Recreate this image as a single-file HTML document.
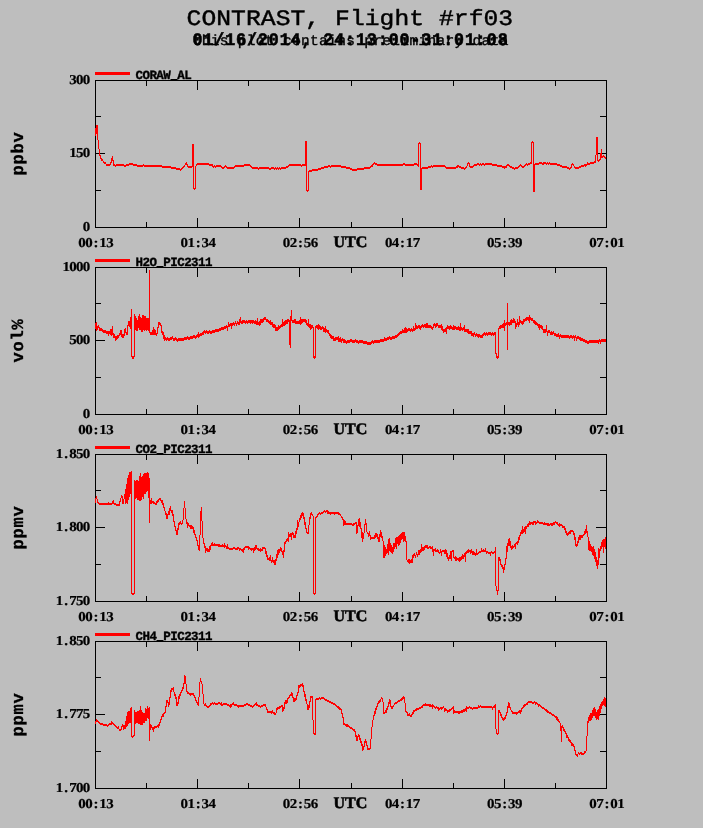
<!DOCTYPE html><html><head><meta charset="utf-8"><style>html,body{margin:0;padding:0;background:#bebebe;overflow:hidden}svg{display:block;will-change:transform;text-rendering:geometricPrecision}</style></head><body>
<svg width="703" height="828" viewBox="0 0 703 828">
<rect width="703" height="828" fill="#bebebe"/>
<text transform="translate(186.50,24.50) scale(1.120,1.000)" x="6.63 19.89 33.15 46.41 59.67 72.92 86.18 99.44 112.70 125.96 139.22 152.48 165.74 179.00 192.25 205.51 218.77 232.03 245.29 258.55 271.81 285.07" y="0" font-family="Liberation Mono" font-weight="normal" font-size="22.00" text-anchor="middle" stroke="#000" stroke-width="0.45">CONTRAST, Flight #rf03</text>
<text transform="translate(192.00,44.50) scale(0.950,1.000)" x="5.74 17.21 28.68 40.16 51.63 63.11 74.58 86.05 97.53 109.00 120.47 131.95 143.42 154.89 166.37 177.84 189.32 200.79 212.26 223.74 235.21 246.68 258.16 269.63 281.11 292.58 304.05 315.53 327.00" y="0" font-family="Liberation Mono" font-weight="bold" font-size="17.50" text-anchor="middle" stroke="#000" stroke-width="0.6">01/16/2014, 24:13:00-31:01:08</text>
<text transform="translate(192.50,44.50) scale(1.000,1.000)" x="4.51 13.54 22.57 31.60 40.63 49.66 58.69 67.72 76.75 85.78 94.81 103.84 112.87 121.90 130.94 139.97 148.99 158.02 167.05 176.08 185.11 194.14 203.17 212.20 221.23 230.26 239.29 248.32 257.35 266.38 275.41 284.44 293.47 302.50 311.53" y="0" font-family="Liberation Mono" font-weight="normal" font-size="14.50" text-anchor="middle" stroke="#000" stroke-width="0.35">this plot contains preliminary data</text>
<g shape-rendering="crispEdges" stroke="#000" stroke-width="1" fill="none">
<rect x="95.5" y="80.5" width="511" height="147"/>
<path d="M146.5 80 v6 M146.5 228 v-6 M197.5 80 v10 M197.5 228 v-10 M248.5 80 v6 M248.5 228 v-6 M299.5 80 v10 M299.5 228 v-10 M351.5 80 v6 M351.5 228 v-6 M402.5 80 v10 M402.5 228 v-10 M453.5 80 v6 M453.5 228 v-6 M504.5 80 v10 M504.5 228 v-10 M555.5 80 v6 M555.5 228 v-6 M95 116.5 h6 M607 116.5 h-7 M95 153.5 h10 M607 153.5 h-11 M95 190.5 h6 M607 190.5 h-7"/>
</g>
<rect x="95" y="72" width="35" height="3" fill="#f00"/>
<text x="135.50 142.45 149.40 156.35 163.30 170.25 177.20 184.15" y="78.6" font-family="Liberation Mono" font-weight="bold" font-size="12.5" stroke="#000" stroke-width="0.35">CORAW AL</text>
<rect x="170.5" y="79" width="7" height="1" fill="#000"/>
<text transform="translate(69.60,84.40) scale(1.100,1.000)" x="3.09 9.27 15.45" y="0" font-family="Liberation Serif" font-weight="bold" font-size="13.60" text-anchor="middle" stroke="#000" stroke-width="0.2">300</text>
<text transform="translate(69.60,157.40) scale(1.100,1.000)" x="3.09 9.27 15.45" y="0" font-family="Liberation Serif" font-weight="bold" font-size="13.60" text-anchor="middle" stroke="#000" stroke-width="0.2">150</text>
<text transform="translate(83.20,231.40) scale(1.100,1.000)" x="3.09" y="0" font-family="Liberation Serif" font-weight="bold" font-size="13.60" text-anchor="middle" stroke="#000" stroke-width="0.2">0</text>
<text transform="translate(78.50,247.20) scale(1.100,1.000)" x="3.18 9.55 15.91 22.27 28.64" y="0" font-family="Liberation Serif" font-weight="bold" font-size="13.60" text-anchor="middle" stroke="#000" stroke-width="0.2">00:13</text>
<text transform="translate(180.70,247.20) scale(1.100,1.000)" x="3.18 9.55 15.91 22.27 28.64" y="0" font-family="Liberation Serif" font-weight="bold" font-size="13.60" text-anchor="middle" stroke="#000" stroke-width="0.2">01:34</text>
<text transform="translate(282.90,247.20) scale(1.100,1.000)" x="3.18 9.55 15.91 22.27 28.64" y="0" font-family="Liberation Serif" font-weight="bold" font-size="13.60" text-anchor="middle" stroke="#000" stroke-width="0.2">02:56</text>
<text transform="translate(385.10,247.20) scale(1.100,1.000)" x="3.18 9.55 15.91 22.27 28.64" y="0" font-family="Liberation Serif" font-weight="bold" font-size="13.60" text-anchor="middle" stroke="#000" stroke-width="0.2">04:17</text>
<text transform="translate(487.30,247.20) scale(1.100,1.000)" x="3.18 9.55 15.91 22.27 28.64" y="0" font-family="Liberation Serif" font-weight="bold" font-size="13.60" text-anchor="middle" stroke="#000" stroke-width="0.2">05:39</text>
<text transform="translate(589.50,247.20) scale(1.100,1.000)" x="3.18 9.55 15.91 22.27 28.64" y="0" font-family="Liberation Serif" font-weight="bold" font-size="13.60" text-anchor="middle" stroke="#000" stroke-width="0.2">07:01</text>
<text transform="translate(333.80,247.00) scale(1.000,1.000)" x="5.55 16.65 27.75" y="0" font-family="Liberation Serif" font-weight="bold" font-size="16.00" text-anchor="middle" stroke="#000" stroke-width="0.55">UTC</text>
<text transform="translate(23,153.5) rotate(-90)" x="-22.00 -11.00 0.00 11.00" y="0" font-family="Liberation Mono" font-weight="bold" font-size="17" stroke="#000" stroke-width="0.3">ppbv</text>
<path d="M95 128h1v8h-1zM96 125h1v9h-1zM97 125h1v15h-1zM98 140h1v9h-1zM99 149h1v7h-1zM100 155h1v4h-1zM101 158h1v3h-1zM102 159h1v2h-1zM103 161h1v2h-1zM104 162h1v2h-1zM105 162h1v2h-1zM106 164h1v2h-1zM107 164h1v2h-1zM108 164h1v2h-1zM109 164h1v2h-1zM110 162h1v3h-1zM111 158h1v5h-1zM112 156h1v5h-1zM113 160h1v6h-1zM114 164h1v2h-1zM115 165h1v2h-1zM116 164h1v2h-1zM117 164h1v2h-1zM118 164h1v2h-1zM119 164h1v2h-1zM120 164h1v2h-1zM121 164h1v2h-1zM122 164h1v2h-1zM123 164h1v2h-1zM124 165h1v2h-1zM125 165h1v2h-1zM126 164h1v2h-1zM127 164h1v2h-1zM128 164h1v2h-1zM129 163h1v2h-1zM130 163h1v2h-1zM131 163h1v2h-1zM132 163h1v2h-1zM133 164h1v2h-1zM134 164h1v2h-1zM135 164h1v2h-1zM136 164h1v2h-1zM137 165h1v2h-1zM138 165h1v2h-1zM139 165h1v2h-1zM140 165h1v2h-1zM141 165h1v2h-1zM142 165h1v2h-1zM143 164h1v2h-1zM144 165h1v2h-1zM145 165h1v2h-1zM146 165h1v2h-1zM147 165h1v2h-1zM148 165h1v2h-1zM149 165h1v2h-1zM150 165h1v2h-1zM151 165h1v2h-1zM152 165h1v2h-1zM153 165h1v2h-1zM154 165h1v2h-1zM155 165h1v2h-1zM156 165h1v2h-1zM157 165h1v2h-1zM158 165h1v2h-1zM159 165h1v2h-1zM160 165h1v2h-1zM161 165h1v2h-1zM162 166h1v2h-1zM163 166h1v2h-1zM164 166h1v2h-1zM165 166h1v2h-1zM166 166h1v2h-1zM167 166h1v2h-1zM168 166h1v2h-1zM169 166h1v2h-1zM170 166h1v2h-1zM171 167h1v2h-1zM172 167h1v2h-1zM173 167h1v2h-1zM174 167h1v2h-1zM175 167h1v2h-1zM176 168h1v2h-1zM177 168h1v2h-1zM178 168h1v2h-1zM179 168h1v2h-1zM180 169h1v2h-1zM181 168h1v2h-1zM182 167h1v2h-1zM183 166h1v2h-1zM184 165h1v2h-1zM185 163h1v2h-1zM186 162h1v3h-1zM187 164h1v3h-1zM188 166h1v2h-1zM189 166h1v2h-1zM190 166h1v2h-1zM191 166h1v2h-1zM192 144h1v23h-1zM193 144h1v45h-1zM194 188h1v2h-1zM195 166h1v23h-1zM196 164h1v2h-1zM197 163h1v2h-1zM198 163h1v2h-1zM199 163h1v2h-1zM200 163h1v2h-1zM201 163h1v2h-1zM202 163h1v2h-1zM203 163h1v2h-1zM204 163h1v2h-1zM205 163h1v2h-1zM206 163h1v2h-1zM207 163h1v2h-1zM208 163h1v2h-1zM209 164h1v2h-1zM210 164h1v2h-1zM211 164h1v2h-1zM212 164h1v3h-1zM213 166h1v2h-1zM214 165h1v2h-1zM215 166h1v2h-1zM216 165h1v2h-1zM217 165h1v2h-1zM218 165h1v2h-1zM219 165h1v2h-1zM220 165h1v2h-1zM221 166h1v2h-1zM222 167h1v2h-1zM223 167h1v2h-1zM224 166h1v2h-1zM225 165h1v2h-1zM226 166h1v2h-1zM227 167h1v2h-1zM228 167h1v2h-1zM229 167h1v2h-1zM230 167h1v2h-1zM231 167h1v2h-1zM232 167h1v2h-1zM233 167h1v2h-1zM234 166h1v2h-1zM235 165h1v2h-1zM236 165h1v2h-1zM237 165h1v2h-1zM238 165h1v2h-1zM239 165h1v2h-1zM240 165h1v2h-1zM241 165h1v2h-1zM242 165h1v2h-1zM243 165h1v2h-1zM244 164h1v2h-1zM245 164h1v2h-1zM246 164h1v2h-1zM247 164h1v2h-1zM248 164h1v2h-1zM249 164h1v2h-1zM250 165h1v2h-1zM251 166h1v2h-1zM252 167h1v2h-1zM253 167h1v2h-1zM254 167h1v2h-1zM255 167h1v2h-1zM256 167h1v2h-1zM257 167h1v2h-1zM258 168h1v2h-1zM259 167h1v2h-1zM260 167h1v2h-1zM261 167h1v2h-1zM262 167h1v2h-1zM263 167h1v2h-1zM264 167h1v2h-1zM265 167h1v2h-1zM266 167h1v2h-1zM267 167h1v2h-1zM268 167h1v2h-1zM269 168h1v2h-1zM270 168h1v2h-1zM271 167h1v2h-1zM272 167h1v2h-1zM273 167h1v2h-1zM274 168h1v2h-1zM275 167h1v2h-1zM276 168h1v2h-1zM277 167h1v2h-1zM278 168h1v2h-1zM279 167h1v2h-1zM280 168h1v2h-1zM281 167h1v2h-1zM282 167h1v2h-1zM283 167h1v2h-1zM284 167h1v2h-1zM285 167h1v2h-1zM286 166h1v2h-1zM287 166h1v2h-1zM288 165h1v2h-1zM289 164h1v2h-1zM290 164h1v2h-1zM291 164h1v2h-1zM292 164h1v2h-1zM293 164h1v2h-1zM294 164h1v2h-1zM295 164h1v2h-1zM296 164h1v2h-1zM297 164h1v2h-1zM298 164h1v2h-1zM299 164h1v2h-1zM300 164h1v2h-1zM301 165h1v2h-1zM302 164h1v2h-1zM303 164h1v2h-1zM304 164h1v2h-1zM305 141h1v25h-1zM306 141h1v50h-1zM307 190h1v2h-1zM308 171h1v20h-1zM309 170h1v2h-1zM310 170h1v2h-1zM311 170h1v2h-1zM312 169h1v2h-1zM313 169h1v2h-1zM314 169h1v2h-1zM315 169h1v2h-1zM316 169h1v2h-1zM317 169h1v2h-1zM318 168h1v2h-1zM319 168h1v2h-1zM320 168h1v2h-1zM321 167h1v2h-1zM322 167h1v2h-1zM323 167h1v2h-1zM324 166h1v2h-1zM325 166h1v2h-1zM326 166h1v2h-1zM327 166h1v2h-1zM328 165h1v2h-1zM329 165h1v2h-1zM330 166h1v2h-1zM331 165h1v2h-1zM332 165h1v2h-1zM333 165h1v2h-1zM334 165h1v2h-1zM335 165h1v2h-1zM336 165h1v2h-1zM337 165h1v2h-1zM338 165h1v2h-1zM339 165h1v2h-1zM340 165h1v2h-1zM341 166h1v2h-1zM342 166h1v2h-1zM343 166h1v2h-1zM344 166h1v2h-1zM345 166h1v2h-1zM346 167h1v2h-1zM347 167h1v2h-1zM348 167h1v2h-1zM349 167h1v2h-1zM350 168h1v2h-1zM351 168h1v2h-1zM352 169h1v2h-1zM353 169h1v2h-1zM354 169h1v2h-1zM355 169h1v2h-1zM356 169h1v2h-1zM357 168h1v2h-1zM358 168h1v2h-1zM359 168h1v2h-1zM360 168h1v2h-1zM361 168h1v2h-1zM362 168h1v2h-1zM363 168h1v2h-1zM364 167h1v2h-1zM365 167h1v2h-1zM366 167h1v2h-1zM367 167h1v2h-1zM368 167h1v2h-1zM369 167h1v2h-1zM370 166h1v2h-1zM371 165h1v2h-1zM372 164h1v3h-1zM373 163h1v2h-1zM374 162h1v2h-1zM375 163h1v2h-1zM376 163h1v2h-1zM377 164h1v2h-1zM378 164h1v2h-1zM379 164h1v2h-1zM380 164h1v2h-1zM381 164h1v2h-1zM382 164h1v2h-1zM383 164h1v2h-1zM384 164h1v2h-1zM385 164h1v2h-1zM386 164h1v2h-1zM387 164h1v2h-1zM388 164h1v2h-1zM389 164h1v2h-1zM390 164h1v2h-1zM391 164h1v2h-1zM392 164h1v2h-1zM393 164h1v2h-1zM394 164h1v2h-1zM395 164h1v2h-1zM396 164h1v2h-1zM397 164h1v2h-1zM398 164h1v2h-1zM399 164h1v2h-1zM400 164h1v2h-1zM401 164h1v2h-1zM402 164h1v2h-1zM403 163h1v2h-1zM404 163h1v2h-1zM405 164h1v2h-1zM406 164h1v2h-1zM407 164h1v2h-1zM408 164h1v2h-1zM409 164h1v2h-1zM410 164h1v2h-1zM411 164h1v2h-1zM412 164h1v2h-1zM413 164h1v2h-1zM414 163h1v2h-1zM415 163h1v2h-1zM416 163h1v2h-1zM417 164h1v2h-1zM418 143h1v24h-1zM419 142h1v2h-1zM420 143h1v47h-1zM421 168h1v22h-1zM422 167h1v2h-1zM423 167h1v2h-1zM424 167h1v2h-1zM425 167h1v2h-1zM426 167h1v2h-1zM427 167h1v2h-1zM428 166h1v2h-1zM429 166h1v2h-1zM430 166h1v2h-1zM431 165h1v2h-1zM432 166h1v2h-1zM433 165h1v2h-1zM434 165h1v2h-1zM435 165h1v2h-1zM436 165h1v2h-1zM437 165h1v2h-1zM438 165h1v2h-1zM439 165h1v2h-1zM440 165h1v2h-1zM441 165h1v2h-1zM442 165h1v2h-1zM443 165h1v2h-1zM444 165h1v2h-1zM445 166h1v2h-1zM446 167h1v2h-1zM447 167h1v2h-1zM448 167h1v2h-1zM449 167h1v2h-1zM450 167h1v2h-1zM451 167h1v2h-1zM452 167h1v2h-1zM453 167h1v2h-1zM454 167h1v2h-1zM455 167h1v2h-1zM456 166h1v2h-1zM457 165h1v3h-1zM458 165h1v2h-1zM459 166h1v2h-1zM460 166h1v2h-1zM461 167h1v2h-1zM462 167h1v2h-1zM463 167h1v2h-1zM464 168h1v2h-1zM465 167h1v2h-1zM466 166h1v2h-1zM467 163h1v3h-1zM468 162h1v2h-1zM469 163h1v4h-1zM470 166h1v2h-1zM471 166h1v2h-1zM472 166h1v2h-1zM473 165h1v2h-1zM474 164h1v2h-1zM475 164h1v2h-1zM476 164h1v2h-1zM477 163h1v2h-1zM478 163h1v2h-1zM479 164h1v2h-1zM480 163h1v2h-1zM481 164h1v2h-1zM482 163h1v2h-1zM483 163h1v2h-1zM484 164h1v2h-1zM485 163h1v2h-1zM486 163h1v2h-1zM487 163h1v2h-1zM488 163h1v2h-1zM489 163h1v2h-1zM490 163h1v2h-1zM491 163h1v2h-1zM492 164h1v2h-1zM493 164h1v2h-1zM494 164h1v2h-1zM495 164h1v2h-1zM496 164h1v2h-1zM497 165h1v2h-1zM498 165h1v2h-1zM499 165h1v2h-1zM500 165h1v2h-1zM501 165h1v2h-1zM502 166h1v2h-1zM503 166h1v2h-1zM504 166h1v3h-1zM505 166h1v2h-1zM506 165h1v3h-1zM507 164h1v2h-1zM508 164h1v2h-1zM509 165h1v2h-1zM510 166h1v2h-1zM511 166h1v2h-1zM512 167h1v2h-1zM513 167h1v2h-1zM514 168h1v2h-1zM515 167h1v2h-1zM516 167h1v2h-1zM517 167h1v2h-1zM518 166h1v2h-1zM519 165h1v2h-1zM520 164h1v2h-1zM521 165h1v2h-1zM522 166h1v2h-1zM523 166h1v2h-1zM524 165h1v2h-1zM525 164h1v2h-1zM526 163h1v2h-1zM527 164h1v2h-1zM528 163h1v2h-1zM529 163h1v2h-1zM530 162h1v2h-1zM531 142h1v22h-1zM532 141h1v2h-1zM533 142h1v50h-1zM534 164h1v28h-1zM535 163h1v2h-1zM536 163h1v2h-1zM537 163h1v2h-1zM538 163h1v2h-1zM539 162h1v2h-1zM540 162h1v2h-1zM541 162h1v2h-1zM542 163h1v2h-1zM543 162h1v3h-1zM544 162h1v2h-1zM545 162h1v2h-1zM546 163h1v2h-1zM547 162h1v2h-1zM548 163h1v2h-1zM549 162h1v2h-1zM550 163h1v2h-1zM551 163h1v2h-1zM552 163h1v2h-1zM553 163h1v2h-1zM554 163h1v2h-1zM555 163h1v2h-1zM556 163h1v2h-1zM557 164h1v2h-1zM558 164h1v2h-1zM559 164h1v2h-1zM560 165h1v2h-1zM561 165h1v2h-1zM562 166h1v2h-1zM563 166h1v2h-1zM564 166h1v2h-1zM565 166h1v2h-1zM566 166h1v2h-1zM567 167h1v2h-1zM568 167h1v2h-1zM569 168h1v2h-1zM570 167h1v2h-1zM571 164h1v4h-1zM572 163h1v2h-1zM573 164h1v2h-1zM574 166h1v2h-1zM575 167h1v2h-1zM576 167h1v2h-1zM577 167h1v2h-1zM578 167h1v2h-1zM579 166h1v2h-1zM580 166h1v2h-1zM581 165h1v2h-1zM582 165h1v2h-1zM583 165h1v2h-1zM584 164h1v2h-1zM585 164h1v3h-1zM586 164h1v2h-1zM587 162h1v3h-1zM588 163h1v2h-1zM589 163h1v2h-1zM590 162h1v2h-1zM591 162h1v2h-1zM592 162h1v2h-1zM593 162h1v2h-1zM594 161h1v2h-1zM595 155h1v8h-1zM596 137h1v18h-1zM597 137h1v24h-1zM598 160h1v2h-1zM599 159h1v2h-1zM600 153h1v7h-1zM601 149h1v9h-1zM602 156h1v2h-1zM603 155h1v2h-1zM604 156h1v2h-1zM605 157h1v2h-1z" fill="#f00" shape-rendering="crispEdges"/>
<g shape-rendering="crispEdges" stroke="#000" stroke-width="1" fill="none">
<rect x="95.5" y="267.5" width="511" height="147"/>
<path d="M146.5 267 v6 M146.5 415 v-6 M197.5 267 v10 M197.5 415 v-10 M248.5 267 v6 M248.5 415 v-6 M299.5 267 v10 M299.5 415 v-10 M351.5 267 v6 M351.5 415 v-6 M402.5 267 v10 M402.5 415 v-10 M453.5 267 v6 M453.5 415 v-6 M504.5 267 v10 M504.5 415 v-10 M555.5 267 v6 M555.5 415 v-6 M95 303.5 h6 M607 303.5 h-7 M95 340.5 h10 M607 340.5 h-11 M95 377.5 h6 M607 377.5 h-7"/>
</g>
<rect x="95" y="259" width="35" height="3" fill="#f00"/>
<text x="135.50 142.45 149.40 156.35 163.30 170.25 177.20 184.15 191.10 198.05 205.00" y="265.6" font-family="Liberation Mono" font-weight="bold" font-size="12.5" stroke="#000" stroke-width="0.35">H2O PIC2311</text>
<rect x="156.5" y="266" width="7" height="1" fill="#000"/>
<text transform="translate(62.80,271.40) scale(1.100,1.000)" x="3.09 9.27 15.45 21.64" y="0" font-family="Liberation Serif" font-weight="bold" font-size="13.60" text-anchor="middle" stroke="#000" stroke-width="0.2">1000</text>
<text transform="translate(69.60,344.40) scale(1.100,1.000)" x="3.09 9.27 15.45" y="0" font-family="Liberation Serif" font-weight="bold" font-size="13.60" text-anchor="middle" stroke="#000" stroke-width="0.2">500</text>
<text transform="translate(83.20,418.40) scale(1.100,1.000)" x="3.09" y="0" font-family="Liberation Serif" font-weight="bold" font-size="13.60" text-anchor="middle" stroke="#000" stroke-width="0.2">0</text>
<text transform="translate(78.50,434.20) scale(1.100,1.000)" x="3.18 9.55 15.91 22.27 28.64" y="0" font-family="Liberation Serif" font-weight="bold" font-size="13.60" text-anchor="middle" stroke="#000" stroke-width="0.2">00:13</text>
<text transform="translate(180.70,434.20) scale(1.100,1.000)" x="3.18 9.55 15.91 22.27 28.64" y="0" font-family="Liberation Serif" font-weight="bold" font-size="13.60" text-anchor="middle" stroke="#000" stroke-width="0.2">01:34</text>
<text transform="translate(282.90,434.20) scale(1.100,1.000)" x="3.18 9.55 15.91 22.27 28.64" y="0" font-family="Liberation Serif" font-weight="bold" font-size="13.60" text-anchor="middle" stroke="#000" stroke-width="0.2">02:56</text>
<text transform="translate(385.10,434.20) scale(1.100,1.000)" x="3.18 9.55 15.91 22.27 28.64" y="0" font-family="Liberation Serif" font-weight="bold" font-size="13.60" text-anchor="middle" stroke="#000" stroke-width="0.2">04:17</text>
<text transform="translate(487.30,434.20) scale(1.100,1.000)" x="3.18 9.55 15.91 22.27 28.64" y="0" font-family="Liberation Serif" font-weight="bold" font-size="13.60" text-anchor="middle" stroke="#000" stroke-width="0.2">05:39</text>
<text transform="translate(589.50,434.20) scale(1.100,1.000)" x="3.18 9.55 15.91 22.27 28.64" y="0" font-family="Liberation Serif" font-weight="bold" font-size="13.60" text-anchor="middle" stroke="#000" stroke-width="0.2">07:01</text>
<text transform="translate(333.80,434.00) scale(1.000,1.000)" x="5.55 16.65 27.75" y="0" font-family="Liberation Serif" font-weight="bold" font-size="16.00" text-anchor="middle" stroke="#000" stroke-width="0.55">UTC</text>
<text transform="translate(23,340.5) rotate(-90)" x="-22.00 -11.00 0.00 11.00" y="0" font-family="Liberation Mono" font-weight="bold" font-size="17" stroke="#000" stroke-width="0.3">vol%</text>
<path d="M95 323h1v6h-1zM96 322h1v9h-1zM97 326h1v4h-1zM98 325h1v3h-1zM99 327h1v4h-1zM100 328h1v3h-1zM101 328h1v3h-1zM102 329h1v3h-1zM103 330h1v3h-1zM104 330h1v3h-1zM105 330h1v3h-1zM106 331h1v3h-1zM107 331h1v3h-1zM108 331h1v5h-1zM109 331h1v3h-1zM110 329h1v6h-1zM111 329h1v7h-1zM112 326h1v9h-1zM113 333h1v5h-1zM114 334h1v4h-1zM115 336h1v5h-1zM116 336h1v4h-1zM117 335h1v4h-1zM118 335h1v3h-1zM119 333h1v3h-1zM120 330h1v5h-1zM121 330h1v7h-1zM122 334h1v4h-1zM123 334h1v4h-1zM124 329h1v7h-1zM125 328h1v5h-1zM126 332h1v3h-1zM127 325h1v10h-1zM128 321h1v5h-1zM129 321h1v6h-1zM130 317h1v12h-1zM131 309h1v48h-1zM132 356h1v3h-1zM133 356h1v3h-1zM134 314h1v43h-1zM135 316h1v14h-1zM136 318h1v13h-1zM137 320h1v11h-1zM138 316h1v12h-1zM139 314h1v16h-1zM140 317h1v13h-1zM141 318h1v14h-1zM142 315h1v17h-1zM143 315h1v15h-1zM144 316h1v15h-1zM145 316h1v14h-1zM146 318h1v13h-1zM147 318h1v12h-1zM148 318h1v13h-1zM149 270h1v63h-1zM150 332h1v3h-1zM151 332h1v3h-1zM152 330h1v5h-1zM153 327h1v8h-1zM154 329h1v6h-1zM155 330h1v5h-1zM156 333h1v3h-1zM157 327h1v7h-1zM158 322h1v6h-1zM159 322h1v3h-1zM160 323h1v3h-1zM161 325h1v8h-1zM162 331h1v4h-1zM163 332h1v7h-1zM164 335h1v6h-1zM165 337h1v3h-1zM166 338h1v3h-1zM167 337h1v3h-1zM168 338h1v3h-1zM169 338h1v3h-1zM170 337h1v3h-1zM171 337h1v3h-1zM172 336h1v3h-1zM173 338h1v3h-1zM174 338h1v3h-1zM175 337h1v3h-1zM176 338h1v3h-1zM177 339h1v3h-1zM178 338h1v3h-1zM179 338h1v3h-1zM180 338h1v3h-1zM181 338h1v3h-1zM182 338h1v3h-1zM183 338h1v3h-1zM184 337h1v3h-1zM185 337h1v3h-1zM186 337h1v3h-1zM187 336h1v3h-1zM188 337h1v3h-1zM189 337h1v3h-1zM190 336h1v3h-1zM191 336h1v3h-1zM192 336h1v3h-1zM193 335h1v3h-1zM194 335h1v3h-1zM195 336h1v3h-1zM196 335h1v3h-1zM197 334h1v3h-1zM198 332h1v6h-1zM199 334h1v3h-1zM200 333h1v3h-1zM201 333h1v3h-1zM202 332h1v3h-1zM203 331h1v4h-1zM204 330h1v3h-1zM205 331h1v3h-1zM206 330h1v3h-1zM207 331h1v3h-1zM208 331h1v3h-1zM209 330h1v3h-1zM210 331h1v3h-1zM211 331h1v3h-1zM212 330h1v3h-1zM213 330h1v3h-1zM214 330h1v3h-1zM215 329h1v3h-1zM216 329h1v3h-1zM217 329h1v3h-1zM218 329h1v3h-1zM219 328h1v3h-1zM220 328h1v3h-1zM221 327h1v3h-1zM222 327h1v3h-1zM223 327h1v3h-1zM224 326h1v3h-1zM225 326h1v3h-1zM226 325h1v3h-1zM227 326h1v5h-1zM228 322h1v5h-1zM229 324h1v3h-1zM230 323h1v3h-1zM231 323h1v6h-1zM232 323h1v3h-1zM233 322h1v3h-1zM234 323h1v3h-1zM235 321h1v3h-1zM236 323h1v3h-1zM237 321h1v3h-1zM238 322h1v3h-1zM239 319h1v6h-1zM240 317h1v6h-1zM241 321h1v3h-1zM242 320h1v4h-1zM243 320h1v3h-1zM244 320h1v3h-1zM245 321h1v3h-1zM246 320h1v3h-1zM247 321h1v3h-1zM248 320h1v3h-1zM249 320h1v3h-1zM250 320h1v4h-1zM251 320h1v3h-1zM252 320h1v4h-1zM253 320h1v3h-1zM254 321h1v3h-1zM255 320h1v4h-1zM256 321h1v4h-1zM257 318h1v7h-1zM258 322h1v3h-1zM259 321h1v5h-1zM260 319h1v6h-1zM261 319h1v4h-1zM262 319h1v4h-1zM263 318h1v4h-1zM264 317h1v3h-1zM265 317h1v3h-1zM266 319h1v3h-1zM267 319h1v3h-1zM268 320h1v3h-1zM269 321h1v3h-1zM270 320h1v5h-1zM271 322h1v3h-1zM272 322h1v5h-1zM273 324h1v4h-1zM274 324h1v4h-1zM275 325h1v6h-1zM276 327h1v4h-1zM277 327h1v4h-1zM278 325h1v5h-1zM279 326h1v3h-1zM280 325h1v3h-1zM281 324h1v3h-1zM282 319h1v8h-1zM283 322h1v4h-1zM284 321h1v5h-1zM285 320h1v5h-1zM286 320h1v4h-1zM287 319h1v5h-1zM288 319h1v3h-1zM289 320h1v25h-1zM290 316h1v32h-1zM291 310h1v11h-1zM292 320h1v3h-1zM293 320h1v3h-1zM294 319h1v4h-1zM295 319h1v5h-1zM296 321h1v3h-1zM297 321h1v3h-1zM298 321h1v3h-1zM299 320h1v4h-1zM300 317h1v8h-1zM301 319h1v5h-1zM302 319h1v4h-1zM303 319h1v3h-1zM304 319h1v3h-1zM305 319h1v4h-1zM306 320h1v5h-1zM307 323h1v3h-1zM308 319h1v8h-1zM309 324h1v4h-1zM310 324h1v6h-1zM311 325h1v4h-1zM312 325h1v3h-1zM313 327h1v31h-1zM314 356h1v3h-1zM315 326h1v32h-1zM316 325h1v3h-1zM317 325h1v4h-1zM318 324h1v6h-1zM319 325h1v4h-1zM320 326h1v4h-1zM321 327h1v3h-1zM322 326h1v3h-1zM323 327h1v5h-1zM324 328h1v4h-1zM325 326h1v7h-1zM326 329h1v3h-1zM327 330h1v3h-1zM328 330h1v4h-1zM329 333h1v3h-1zM330 334h1v4h-1zM331 335h1v4h-1zM332 336h1v3h-1zM333 336h1v5h-1zM334 338h1v3h-1zM335 337h1v4h-1zM336 337h1v3h-1zM337 337h1v3h-1zM338 336h1v6h-1zM339 338h1v4h-1zM340 337h1v5h-1zM341 339h1v4h-1zM342 338h1v3h-1zM343 339h1v4h-1zM344 339h1v4h-1zM345 340h1v3h-1zM346 341h1v3h-1zM347 340h1v3h-1zM348 340h1v3h-1zM349 340h1v3h-1zM350 339h1v3h-1zM351 339h1v3h-1zM352 340h1v3h-1zM353 340h1v3h-1zM354 340h1v3h-1zM355 339h1v3h-1zM356 340h1v3h-1zM357 340h1v3h-1zM358 341h1v3h-1zM359 340h1v3h-1zM360 340h1v3h-1zM361 340h1v3h-1zM362 340h1v3h-1zM363 341h1v3h-1zM364 341h1v3h-1zM365 341h1v3h-1zM366 341h1v3h-1zM367 342h1v3h-1zM368 342h1v3h-1zM369 342h1v3h-1zM370 342h1v3h-1zM371 341h1v3h-1zM372 340h1v3h-1zM373 341h1v3h-1zM374 340h1v3h-1zM375 340h1v3h-1zM376 340h1v3h-1zM377 340h1v3h-1zM378 340h1v3h-1zM379 340h1v3h-1zM380 339h1v3h-1zM381 339h1v3h-1zM382 339h1v3h-1zM383 339h1v3h-1zM384 337h1v4h-1zM385 338h1v3h-1zM386 338h1v3h-1zM387 337h1v3h-1zM388 337h1v3h-1zM389 336h1v3h-1zM390 337h1v3h-1zM391 337h1v3h-1zM392 336h1v3h-1zM393 336h1v3h-1zM394 336h1v3h-1zM395 335h1v3h-1zM396 335h1v3h-1zM397 334h1v3h-1zM398 333h1v3h-1zM399 332h1v3h-1zM400 331h1v3h-1zM401 331h1v3h-1zM402 329h1v4h-1zM403 330h1v3h-1zM404 328h1v5h-1zM405 327h1v6h-1zM406 328h1v5h-1zM407 329h1v3h-1zM408 328h1v3h-1zM409 328h1v3h-1zM410 329h1v3h-1zM411 328h1v3h-1zM412 329h1v3h-1zM413 326h1v5h-1zM414 328h1v3h-1zM415 323h1v7h-1zM416 325h1v4h-1zM417 326h1v3h-1zM418 325h1v3h-1zM419 325h1v4h-1zM420 326h1v4h-1zM421 325h1v3h-1zM422 324h1v3h-1zM423 325h1v3h-1zM424 324h1v3h-1zM425 324h1v4h-1zM426 323h1v5h-1zM427 323h1v5h-1zM428 325h1v3h-1zM429 325h1v3h-1zM430 325h1v3h-1zM431 326h1v3h-1zM432 327h1v3h-1zM433 324h1v4h-1zM434 323h1v3h-1zM435 324h1v4h-1zM436 323h1v4h-1zM437 323h1v3h-1zM438 325h1v3h-1zM439 325h1v3h-1zM440 325h1v3h-1zM441 324h1v6h-1zM442 326h1v5h-1zM443 329h1v4h-1zM444 329h1v3h-1zM445 328h1v4h-1zM446 327h1v7h-1zM447 325h1v4h-1zM448 326h1v3h-1zM449 326h1v4h-1zM450 325h1v4h-1zM451 326h1v3h-1zM452 327h1v3h-1zM453 325h1v5h-1zM454 326h1v4h-1zM455 326h1v3h-1zM456 327h1v3h-1zM457 327h1v3h-1zM458 326h1v4h-1zM459 327h1v4h-1zM460 323h1v8h-1zM461 327h1v3h-1zM462 328h1v3h-1zM463 327h1v3h-1zM464 325h1v7h-1zM465 329h1v3h-1zM466 329h1v3h-1zM467 329h1v4h-1zM468 329h1v5h-1zM469 331h1v3h-1zM470 331h1v3h-1zM471 331h1v5h-1zM472 333h1v3h-1zM473 333h1v4h-1zM474 332h1v3h-1zM475 334h1v3h-1zM476 333h1v3h-1zM477 334h1v3h-1zM478 334h1v4h-1zM479 334h1v3h-1zM480 335h1v3h-1zM481 335h1v3h-1zM482 334h1v4h-1zM483 333h1v3h-1zM484 332h1v3h-1zM485 333h1v3h-1zM486 332h1v3h-1zM487 333h1v3h-1zM488 332h1v3h-1zM489 332h1v3h-1zM490 332h1v3h-1zM491 333h1v3h-1zM492 332h1v3h-1zM493 333h1v3h-1zM494 332h1v3h-1zM495 332h1v22h-1zM496 353h1v5h-1zM497 356h1v3h-1zM498 328h1v30h-1zM499 326h1v3h-1zM500 325h1v4h-1zM501 325h1v3h-1zM502 324h1v4h-1zM503 323h1v5h-1zM504 320h1v11h-1zM505 323h1v3h-1zM506 322h1v3h-1zM507 303h1v47h-1zM508 322h1v3h-1zM509 322h1v4h-1zM510 320h1v5h-1zM511 319h1v6h-1zM512 320h1v3h-1zM513 318h1v5h-1zM514 319h1v4h-1zM515 321h1v8h-1zM516 323h1v4h-1zM517 319h1v6h-1zM518 322h1v5h-1zM519 316h1v9h-1zM520 320h1v3h-1zM521 321h1v3h-1zM522 321h1v4h-1zM523 319h1v5h-1zM524 319h1v3h-1zM525 318h1v3h-1zM526 317h1v4h-1zM527 317h1v3h-1zM528 317h1v4h-1zM529 315h1v8h-1zM530 317h1v3h-1zM531 318h1v3h-1zM532 318h1v3h-1zM533 320h1v3h-1zM534 320h1v4h-1zM535 321h1v4h-1zM536 322h1v3h-1zM537 323h1v3h-1zM538 324h1v4h-1zM539 324h1v6h-1zM540 325h1v3h-1zM541 325h1v4h-1zM542 326h1v4h-1zM543 329h1v4h-1zM544 329h1v4h-1zM545 329h1v4h-1zM546 325h1v7h-1zM547 331h1v5h-1zM548 330h1v3h-1zM549 330h1v3h-1zM550 332h1v3h-1zM551 331h1v4h-1zM552 332h1v3h-1zM553 331h1v3h-1zM554 333h1v3h-1zM555 333h1v3h-1zM556 334h1v3h-1zM557 334h1v3h-1zM558 333h1v4h-1zM559 335h1v4h-1zM560 334h1v3h-1zM561 335h1v3h-1zM562 335h1v3h-1zM563 335h1v3h-1zM564 335h1v3h-1zM565 335h1v3h-1zM566 335h1v3h-1zM567 335h1v3h-1zM568 335h1v3h-1zM569 336h1v3h-1zM570 335h1v3h-1zM571 335h1v3h-1zM572 336h1v3h-1zM573 335h1v3h-1zM574 336h1v5h-1zM575 335h1v3h-1zM576 337h1v4h-1zM577 336h1v3h-1zM578 336h1v3h-1zM579 337h1v3h-1zM580 337h1v4h-1zM581 338h1v3h-1zM582 338h1v3h-1zM583 339h1v3h-1zM584 339h1v3h-1zM585 340h1v3h-1zM586 340h1v3h-1zM587 341h1v3h-1zM588 341h1v3h-1zM589 340h1v3h-1zM590 340h1v3h-1zM591 340h1v3h-1zM592 340h1v3h-1zM593 340h1v3h-1zM594 340h1v3h-1zM595 340h1v3h-1zM596 340h1v3h-1zM597 340h1v3h-1zM598 340h1v4h-1zM599 339h1v3h-1zM600 340h1v4h-1zM601 339h1v3h-1zM602 339h1v3h-1zM603 339h1v3h-1zM604 339h1v3h-1zM605 339h1v3h-1z" fill="#f00" shape-rendering="crispEdges"/>
<g shape-rendering="crispEdges" stroke="#000" stroke-width="1" fill="none">
<rect x="95.5" y="454.5" width="511" height="147"/>
<path d="M146.5 454 v6 M146.5 602 v-6 M197.5 454 v10 M197.5 602 v-10 M248.5 454 v6 M248.5 602 v-6 M299.5 454 v10 M299.5 602 v-10 M351.5 454 v6 M351.5 602 v-6 M402.5 454 v10 M402.5 602 v-10 M453.5 454 v6 M453.5 602 v-6 M504.5 454 v10 M504.5 602 v-10 M555.5 454 v6 M555.5 602 v-6 M95 490.5 h6 M607 490.5 h-7 M95 527.5 h10 M607 527.5 h-11 M95 564.5 h6 M607 564.5 h-7"/>
</g>
<rect x="95" y="446" width="35" height="3" fill="#f00"/>
<text x="135.50 142.45 149.40 156.35 163.30 170.25 177.20 184.15 191.10 198.05 205.00" y="452.6" font-family="Liberation Mono" font-weight="bold" font-size="12.5" stroke="#000" stroke-width="0.35">CO2 PIC2311</text>
<rect x="156.5" y="453" width="7" height="1" fill="#000"/>
<text transform="translate(56.00,458.40) scale(1.100,1.000)" x="3.09 9.27 15.45 21.64 27.82" y="0" font-family="Liberation Serif" font-weight="bold" font-size="13.60" text-anchor="middle" stroke="#000" stroke-width="0.2">1.850</text>
<text transform="translate(56.00,531.40) scale(1.100,1.000)" x="3.09 9.27 15.45 21.64 27.82" y="0" font-family="Liberation Serif" font-weight="bold" font-size="13.60" text-anchor="middle" stroke="#000" stroke-width="0.2">1.800</text>
<text transform="translate(56.00,605.40) scale(1.100,1.000)" x="3.09 9.27 15.45 21.64 27.82" y="0" font-family="Liberation Serif" font-weight="bold" font-size="13.60" text-anchor="middle" stroke="#000" stroke-width="0.2">1.750</text>
<text transform="translate(78.50,621.20) scale(1.100,1.000)" x="3.18 9.55 15.91 22.27 28.64" y="0" font-family="Liberation Serif" font-weight="bold" font-size="13.60" text-anchor="middle" stroke="#000" stroke-width="0.2">00:13</text>
<text transform="translate(180.70,621.20) scale(1.100,1.000)" x="3.18 9.55 15.91 22.27 28.64" y="0" font-family="Liberation Serif" font-weight="bold" font-size="13.60" text-anchor="middle" stroke="#000" stroke-width="0.2">01:34</text>
<text transform="translate(282.90,621.20) scale(1.100,1.000)" x="3.18 9.55 15.91 22.27 28.64" y="0" font-family="Liberation Serif" font-weight="bold" font-size="13.60" text-anchor="middle" stroke="#000" stroke-width="0.2">02:56</text>
<text transform="translate(385.10,621.20) scale(1.100,1.000)" x="3.18 9.55 15.91 22.27 28.64" y="0" font-family="Liberation Serif" font-weight="bold" font-size="13.60" text-anchor="middle" stroke="#000" stroke-width="0.2">04:17</text>
<text transform="translate(487.30,621.20) scale(1.100,1.000)" x="3.18 9.55 15.91 22.27 28.64" y="0" font-family="Liberation Serif" font-weight="bold" font-size="13.60" text-anchor="middle" stroke="#000" stroke-width="0.2">05:39</text>
<text transform="translate(589.50,621.20) scale(1.100,1.000)" x="3.18 9.55 15.91 22.27 28.64" y="0" font-family="Liberation Serif" font-weight="bold" font-size="13.60" text-anchor="middle" stroke="#000" stroke-width="0.2">07:01</text>
<text transform="translate(333.80,621.00) scale(1.000,1.000)" x="5.55 16.65 27.75" y="0" font-family="Liberation Serif" font-weight="bold" font-size="16.00" text-anchor="middle" stroke="#000" stroke-width="0.55">UTC</text>
<text transform="translate(23,527.5) rotate(-90)" x="-22.00 -11.00 0.00 11.00" y="0" font-family="Liberation Mono" font-weight="bold" font-size="17" stroke="#000" stroke-width="0.3">ppmv</text>
<path d="M95 498h1v5h-1zM96 496h1v3h-1zM97 499h1v4h-1zM98 502h1v2h-1zM99 503h1v2h-1zM100 503h1v2h-1zM101 503h1v2h-1zM102 503h1v2h-1zM103 503h1v2h-1zM104 503h1v2h-1zM105 503h1v2h-1zM106 503h1v2h-1zM107 503h1v2h-1zM108 502h1v3h-1zM109 503h1v2h-1zM110 503h1v2h-1zM111 503h1v2h-1zM112 501h1v3h-1zM113 500h1v4h-1zM114 503h1v2h-1zM115 503h1v2h-1zM116 504h1v2h-1zM117 504h1v2h-1zM118 504h1v2h-1zM119 501h1v5h-1zM120 498h1v4h-1zM121 495h1v3h-1zM122 496h1v8h-1zM123 499h1v5h-1zM124 494h1v5h-1zM125 489h1v15h-1zM126 484h1v19h-1zM127 478h1v26h-1zM128 475h1v25h-1zM129 472h1v25h-1zM130 472h1v22h-1zM131 471h1v123h-1zM132 593h1v2h-1zM133 593h1v2h-1zM134 480h1v114h-1zM135 481h1v18h-1zM136 480h1v18h-1zM137 480h1v20h-1zM138 481h1v19h-1zM139 476h1v25h-1zM140 473h1v28h-1zM141 477h1v23h-1zM142 476h1v21h-1zM143 474h1v25h-1zM144 473h1v21h-1zM145 473h1v21h-1zM146 473h1v19h-1zM147 472h1v19h-1zM148 473h1v25h-1zM149 478h1v45h-1zM150 500h1v4h-1zM151 498h1v6h-1zM152 501h1v2h-1zM153 501h1v3h-1zM154 502h1v2h-1zM155 503h1v2h-1zM156 501h1v4h-1zM157 500h1v3h-1zM158 499h1v3h-1zM159 498h1v2h-1zM160 498h1v3h-1zM161 500h1v3h-1zM162 500h1v5h-1zM163 503h1v5h-1zM164 507h1v4h-1zM165 511h1v4h-1zM166 513h1v6h-1zM167 514h1v5h-1zM168 511h1v4h-1zM169 508h1v7h-1zM170 506h1v5h-1zM171 510h1v3h-1zM172 510h1v6h-1zM173 514h1v8h-1zM174 521h1v6h-1zM175 526h1v5h-1zM176 530h1v5h-1zM177 528h1v7h-1zM178 523h1v7h-1zM179 522h1v3h-1zM180 521h1v3h-1zM181 523h1v2h-1zM182 520h1v4h-1zM183 508h1v12h-1zM184 501h1v7h-1zM185 508h1v11h-1zM186 519h1v5h-1zM187 522h1v6h-1zM188 523h1v3h-1zM189 525h1v2h-1zM190 525h1v4h-1zM191 525h1v4h-1zM192 526h1v3h-1zM193 527h1v6h-1zM194 530h1v5h-1zM195 534h1v4h-1zM196 537h1v4h-1zM197 540h1v6h-1zM198 545h1v5h-1zM199 535h1v16h-1zM200 511h1v24h-1zM201 507h1v14h-1zM202 521h1v17h-1zM203 538h1v6h-1zM204 543h1v5h-1zM205 546h1v7h-1zM206 548h1v3h-1zM207 548h1v4h-1zM208 549h1v3h-1zM209 546h1v6h-1zM210 545h1v5h-1zM211 543h1v3h-1zM212 542h1v4h-1zM213 544h1v2h-1zM214 543h1v3h-1zM215 544h1v2h-1zM216 544h1v2h-1zM217 544h1v2h-1zM218 544h1v3h-1zM219 544h1v3h-1zM220 545h1v2h-1zM221 545h1v2h-1zM222 544h1v3h-1zM223 545h1v2h-1zM224 543h1v5h-1zM225 545h1v2h-1zM226 546h1v3h-1zM227 544h1v5h-1zM228 547h1v2h-1zM229 548h1v2h-1zM230 548h1v2h-1zM231 548h1v2h-1zM232 548h1v2h-1zM233 547h1v2h-1zM234 547h1v2h-1zM235 548h1v2h-1zM236 548h1v2h-1zM237 547h1v3h-1zM238 547h1v2h-1zM239 548h1v3h-1zM240 548h1v2h-1zM241 549h1v2h-1zM242 549h1v3h-1zM243 548h1v5h-1zM244 547h1v3h-1zM245 546h1v2h-1zM246 546h1v2h-1zM247 546h1v2h-1zM248 546h1v4h-1zM249 547h1v2h-1zM250 548h1v2h-1zM251 548h1v3h-1zM252 548h1v2h-1zM253 548h1v5h-1zM254 547h1v4h-1zM255 545h1v5h-1zM256 545h1v4h-1zM257 548h1v2h-1zM258 548h1v3h-1zM259 549h1v2h-1zM260 548h1v4h-1zM261 549h1v2h-1zM262 547h1v4h-1zM263 547h1v2h-1zM264 547h1v2h-1zM265 548h1v6h-1zM266 551h1v6h-1zM267 555h1v5h-1zM268 558h1v2h-1zM269 557h1v4h-1zM270 555h1v6h-1zM271 560h1v3h-1zM272 557h1v5h-1zM273 560h1v3h-1zM274 560h1v5h-1zM275 559h1v6h-1zM276 554h1v7h-1zM277 550h1v8h-1zM278 549h1v6h-1zM279 549h1v4h-1zM280 547h1v4h-1zM281 548h1v4h-1zM282 551h1v4h-1zM283 550h1v8h-1zM284 542h1v10h-1zM285 541h1v3h-1zM286 539h1v3h-1zM287 538h1v3h-1zM288 532h1v10h-1zM289 534h1v3h-1zM290 533h1v4h-1zM291 533h1v7h-1zM292 532h1v3h-1zM293 533h1v5h-1zM294 535h1v3h-1zM295 531h1v7h-1zM296 528h1v6h-1zM297 520h1v10h-1zM298 522h1v5h-1zM299 518h1v4h-1zM300 515h1v5h-1zM301 513h1v5h-1zM302 512h1v4h-1zM303 513h1v6h-1zM304 517h1v8h-1zM305 522h1v7h-1zM306 528h1v5h-1zM307 532h1v2h-1zM308 525h1v9h-1zM309 517h1v8h-1zM310 513h1v6h-1zM311 512h1v3h-1zM312 514h1v2h-1zM313 516h1v78h-1zM314 593h1v2h-1zM315 517h1v77h-1zM316 516h1v2h-1zM317 514h1v3h-1zM318 513h1v2h-1zM319 512h1v2h-1zM320 513h1v2h-1zM321 512h1v2h-1zM322 512h1v2h-1zM323 511h1v2h-1zM324 510h1v2h-1zM325 511h1v2h-1zM326 510h1v2h-1zM327 510h1v4h-1zM328 511h1v3h-1zM329 512h1v2h-1zM330 512h1v3h-1zM331 512h1v2h-1zM332 512h1v2h-1zM333 512h1v2h-1zM334 512h1v3h-1zM335 512h1v2h-1zM336 512h1v2h-1zM337 512h1v2h-1zM338 512h1v3h-1zM339 513h1v2h-1zM340 514h1v2h-1zM341 516h1v2h-1zM342 517h1v3h-1zM343 519h1v7h-1zM344 520h1v5h-1zM345 521h1v4h-1zM346 523h1v2h-1zM347 523h1v2h-1zM348 523h1v2h-1zM349 523h1v2h-1zM350 523h1v2h-1zM351 523h1v2h-1zM352 524h1v2h-1zM353 523h1v3h-1zM354 523h1v2h-1zM355 522h1v2h-1zM356 522h1v12h-1zM357 525h1v8h-1zM358 519h1v7h-1zM359 518h1v9h-1zM360 522h1v7h-1zM361 528h1v10h-1zM362 532h1v10h-1zM363 533h1v6h-1zM364 524h1v9h-1zM365 519h1v6h-1zM366 523h1v9h-1zM367 532h1v2h-1zM368 533h1v4h-1zM369 531h1v5h-1zM370 535h1v5h-1zM371 537h1v2h-1zM372 537h1v2h-1zM373 537h1v2h-1zM374 535h1v4h-1zM375 533h1v5h-1zM376 533h1v4h-1zM377 534h1v5h-1zM378 537h1v5h-1zM379 534h1v8h-1zM380 530h1v7h-1zM381 532h1v6h-1zM382 536h1v5h-1zM383 541h1v17h-1zM384 545h1v13h-1zM385 547h1v9h-1zM386 549h1v5h-1zM387 544h1v9h-1zM388 539h1v16h-1zM389 538h1v13h-1zM390 543h1v9h-1zM391 545h1v8h-1zM392 547h1v7h-1zM393 543h1v9h-1zM394 543h1v6h-1zM395 538h1v9h-1zM396 537h1v12h-1zM397 537h1v7h-1zM398 536h1v10h-1zM399 535h1v10h-1zM400 534h1v9h-1zM401 533h1v7h-1zM402 532h1v7h-1zM403 532h1v10h-1zM404 532h1v9h-1zM405 536h1v6h-1zM406 541h1v19h-1zM407 560h1v2h-1zM408 559h1v4h-1zM409 559h1v5h-1zM410 560h1v3h-1zM411 559h1v4h-1zM412 555h1v8h-1zM413 554h1v4h-1zM414 553h1v3h-1zM415 555h1v3h-1zM416 552h1v3h-1zM417 554h1v3h-1zM418 550h1v5h-1zM419 550h1v5h-1zM420 549h1v4h-1zM421 544h1v8h-1zM422 547h1v4h-1zM423 547h1v4h-1zM424 546h1v4h-1zM425 545h1v3h-1zM426 545h1v3h-1zM427 545h1v4h-1zM428 547h1v2h-1zM429 546h1v2h-1zM430 546h1v3h-1zM431 547h1v2h-1zM432 546h1v6h-1zM433 549h1v7h-1zM434 549h1v2h-1zM435 548h1v4h-1zM436 550h1v2h-1zM437 549h1v3h-1zM438 550h1v3h-1zM439 552h1v2h-1zM440 549h1v4h-1zM441 551h1v5h-1zM442 550h1v2h-1zM443 550h1v2h-1zM444 550h1v4h-1zM445 549h1v5h-1zM446 550h1v7h-1zM447 553h1v6h-1zM448 557h1v4h-1zM449 555h1v4h-1zM450 551h1v8h-1zM451 551h1v10h-1zM452 550h1v2h-1zM453 550h1v8h-1zM454 557h1v2h-1zM455 556h1v5h-1zM456 557h1v4h-1zM457 558h1v2h-1zM458 558h1v3h-1zM459 557h1v5h-1zM460 557h1v4h-1zM461 556h1v4h-1zM462 554h1v5h-1zM463 555h1v4h-1zM464 553h1v4h-1zM465 552h1v10h-1zM466 551h1v3h-1zM467 550h1v3h-1zM468 549h1v4h-1zM469 550h1v2h-1zM470 550h1v4h-1zM471 549h1v4h-1zM472 551h1v4h-1zM473 551h1v4h-1zM474 552h1v3h-1zM475 553h1v3h-1zM476 549h1v6h-1zM477 553h1v2h-1zM478 552h1v2h-1zM479 551h1v2h-1zM480 551h1v2h-1zM481 548h1v4h-1zM482 550h1v2h-1zM483 549h1v3h-1zM484 550h1v2h-1zM485 548h1v4h-1zM486 551h1v3h-1zM487 551h1v2h-1zM488 552h1v2h-1zM489 552h1v2h-1zM490 552h1v4h-1zM491 551h1v2h-1zM492 552h1v2h-1zM493 552h1v2h-1zM494 551h1v2h-1zM495 547h1v39h-1zM496 586h1v5h-1zM497 590h1v5h-1zM498 557h1v34h-1zM499 557h1v4h-1zM500 559h1v6h-1zM501 564h1v3h-1zM502 565h1v4h-1zM503 567h1v6h-1zM504 564h1v6h-1zM505 558h1v7h-1zM506 546h1v13h-1zM507 543h1v9h-1zM508 539h1v7h-1zM509 538h1v8h-1zM510 541h1v7h-1zM511 546h1v4h-1zM512 545h1v4h-1zM513 546h1v2h-1zM514 544h1v3h-1zM515 543h1v6h-1zM516 542h1v2h-1zM517 541h1v4h-1zM518 537h1v6h-1zM519 535h1v5h-1zM520 532h1v4h-1zM521 530h1v4h-1zM522 526h1v8h-1zM523 529h1v4h-1zM524 527h1v5h-1zM525 526h1v8h-1zM526 526h1v3h-1zM527 524h1v3h-1zM528 523h1v4h-1zM529 521h1v4h-1zM530 522h1v3h-1zM531 522h1v2h-1zM532 522h1v3h-1zM533 521h1v4h-1zM534 521h1v2h-1zM535 521h1v4h-1zM536 522h1v2h-1zM537 520h1v3h-1zM538 521h1v2h-1zM539 522h1v2h-1zM540 522h1v2h-1zM541 522h1v2h-1zM542 522h1v2h-1zM543 523h1v2h-1zM544 522h1v3h-1zM545 523h1v2h-1zM546 523h1v2h-1zM547 523h1v3h-1zM548 523h1v3h-1zM549 524h1v2h-1zM550 523h1v2h-1zM551 523h1v3h-1zM552 523h1v3h-1zM553 522h1v3h-1zM554 522h1v3h-1zM555 521h1v2h-1zM556 522h1v2h-1zM557 522h1v3h-1zM558 524h1v2h-1zM559 523h1v4h-1zM560 524h1v2h-1zM561 524h1v2h-1zM562 525h1v3h-1zM563 526h1v2h-1zM564 526h1v4h-1zM565 528h1v5h-1zM566 531h1v4h-1zM567 533h1v3h-1zM568 532h1v3h-1zM569 531h1v3h-1zM570 530h1v4h-1zM571 530h1v2h-1zM572 530h1v2h-1zM573 531h1v4h-1zM574 533h1v7h-1zM575 537h1v9h-1zM576 544h1v3h-1zM577 541h1v5h-1zM578 537h1v6h-1zM579 535h1v5h-1zM580 535h1v5h-1zM581 535h1v3h-1zM582 535h1v3h-1zM583 534h1v2h-1zM584 531h1v4h-1zM585 529h1v5h-1zM586 525h1v8h-1zM587 531h1v6h-1zM588 537h1v13h-1zM589 541h1v10h-1zM590 544h1v7h-1zM591 546h1v6h-1zM592 547h1v8h-1zM593 546h1v10h-1zM594 549h1v10h-1zM595 552h1v10h-1zM596 557h1v9h-1zM597 560h1v9h-1zM598 548h1v17h-1zM599 549h1v9h-1zM600 546h1v5h-1zM601 542h1v7h-1zM602 540h1v7h-1zM603 539h1v14h-1zM604 539h1v8h-1zM605 537h1v12h-1z" fill="#f00" shape-rendering="crispEdges"/>
<g shape-rendering="crispEdges" stroke="#000" stroke-width="1" fill="none">
<rect x="95.5" y="641.5" width="511" height="147"/>
<path d="M146.5 641 v6 M146.5 789 v-6 M197.5 641 v10 M197.5 789 v-10 M248.5 641 v6 M248.5 789 v-6 M299.5 641 v10 M299.5 789 v-10 M351.5 641 v6 M351.5 789 v-6 M402.5 641 v10 M402.5 789 v-10 M453.5 641 v6 M453.5 789 v-6 M504.5 641 v10 M504.5 789 v-10 M555.5 641 v6 M555.5 789 v-6 M95 677.5 h6 M607 677.5 h-7 M95 714.5 h10 M607 714.5 h-11 M95 751.5 h6 M607 751.5 h-7"/>
</g>
<rect x="95" y="633" width="35" height="3" fill="#f00"/>
<text x="135.50 142.45 149.40 156.35 163.30 170.25 177.20 184.15 191.10 198.05 205.00" y="639.6" font-family="Liberation Mono" font-weight="bold" font-size="12.5" stroke="#000" stroke-width="0.35">CH4 PIC2311</text>
<rect x="156.5" y="640" width="7" height="1" fill="#000"/>
<text transform="translate(56.00,645.40) scale(1.100,1.000)" x="3.09 9.27 15.45 21.64 27.82" y="0" font-family="Liberation Serif" font-weight="bold" font-size="13.60" text-anchor="middle" stroke="#000" stroke-width="0.2">1.850</text>
<text transform="translate(56.00,718.40) scale(1.100,1.000)" x="3.09 9.27 15.45 21.64 27.82" y="0" font-family="Liberation Serif" font-weight="bold" font-size="13.60" text-anchor="middle" stroke="#000" stroke-width="0.2">1.775</text>
<text transform="translate(56.00,792.40) scale(1.100,1.000)" x="3.09 9.27 15.45 21.64 27.82" y="0" font-family="Liberation Serif" font-weight="bold" font-size="13.60" text-anchor="middle" stroke="#000" stroke-width="0.2">1.700</text>
<text transform="translate(78.50,808.20) scale(1.100,1.000)" x="3.18 9.55 15.91 22.27 28.64" y="0" font-family="Liberation Serif" font-weight="bold" font-size="13.60" text-anchor="middle" stroke="#000" stroke-width="0.2">00:13</text>
<text transform="translate(180.70,808.20) scale(1.100,1.000)" x="3.18 9.55 15.91 22.27 28.64" y="0" font-family="Liberation Serif" font-weight="bold" font-size="13.60" text-anchor="middle" stroke="#000" stroke-width="0.2">01:34</text>
<text transform="translate(282.90,808.20) scale(1.100,1.000)" x="3.18 9.55 15.91 22.27 28.64" y="0" font-family="Liberation Serif" font-weight="bold" font-size="13.60" text-anchor="middle" stroke="#000" stroke-width="0.2">02:56</text>
<text transform="translate(385.10,808.20) scale(1.100,1.000)" x="3.18 9.55 15.91 22.27 28.64" y="0" font-family="Liberation Serif" font-weight="bold" font-size="13.60" text-anchor="middle" stroke="#000" stroke-width="0.2">04:17</text>
<text transform="translate(487.30,808.20) scale(1.100,1.000)" x="3.18 9.55 15.91 22.27 28.64" y="0" font-family="Liberation Serif" font-weight="bold" font-size="13.60" text-anchor="middle" stroke="#000" stroke-width="0.2">05:39</text>
<text transform="translate(589.50,808.20) scale(1.100,1.000)" x="3.18 9.55 15.91 22.27 28.64" y="0" font-family="Liberation Serif" font-weight="bold" font-size="13.60" text-anchor="middle" stroke="#000" stroke-width="0.2">07:01</text>
<text transform="translate(333.80,808.00) scale(1.000,1.000)" x="5.55 16.65 27.75" y="0" font-family="Liberation Serif" font-weight="bold" font-size="16.00" text-anchor="middle" stroke="#000" stroke-width="0.55">UTC</text>
<text transform="translate(23,714.5) rotate(-90)" x="-22.00 -11.00 0.00 11.00" y="0" font-family="Liberation Mono" font-weight="bold" font-size="17" stroke="#000" stroke-width="0.3">ppmv</text>
<path d="M95 721h1v3h-1zM96 719h1v3h-1zM97 720h1v2h-1zM98 721h1v2h-1zM99 722h1v2h-1zM100 723h1v2h-1zM101 723h1v2h-1zM102 723h1v2h-1zM103 724h1v2h-1zM104 724h1v2h-1zM105 724h1v2h-1zM106 724h1v2h-1zM107 725h1v2h-1zM108 724h1v2h-1zM109 723h1v2h-1zM110 723h1v2h-1zM111 721h1v4h-1zM112 722h1v2h-1zM113 723h1v2h-1zM114 724h1v2h-1zM115 725h1v2h-1zM116 726h1v2h-1zM117 727h1v2h-1zM118 726h1v3h-1zM119 729h1v2h-1zM120 729h1v2h-1zM121 726h1v4h-1zM122 724h1v3h-1zM123 725h1v5h-1zM124 725h1v4h-1zM125 721h1v8h-1zM126 716h1v11h-1zM127 712h1v14h-1zM128 711h1v13h-1zM129 711h1v12h-1zM130 708h1v15h-1zM131 707h1v30h-1zM132 736h1v2h-1zM133 735h1v2h-1zM134 710h1v26h-1zM135 712h1v12h-1zM136 712h1v11h-1zM137 711h1v12h-1zM138 711h1v13h-1zM139 710h1v14h-1zM140 706h1v19h-1zM141 710h1v15h-1zM142 712h1v13h-1zM143 713h1v10h-1zM144 713h1v10h-1zM145 708h1v13h-1zM146 709h1v12h-1zM147 706h1v12h-1zM148 708h1v11h-1zM149 707h1v34h-1zM150 724h1v6h-1zM151 725h1v3h-1zM152 727h1v3h-1zM153 727h1v5h-1zM154 726h1v3h-1zM155 726h1v2h-1zM156 726h1v2h-1zM157 725h1v2h-1zM158 724h1v4h-1zM159 722h1v4h-1zM160 719h1v4h-1zM161 716h1v4h-1zM162 714h1v3h-1zM163 713h1v4h-1zM164 712h1v2h-1zM165 706h1v7h-1zM166 700h1v7h-1zM167 700h1v3h-1zM168 702h1v5h-1zM169 697h1v8h-1zM170 690h1v8h-1zM171 688h1v4h-1zM172 688h1v2h-1zM173 687h1v5h-1zM174 692h1v4h-1zM175 694h1v5h-1zM176 697h1v9h-1zM177 702h1v4h-1zM178 696h1v8h-1zM179 694h1v5h-1zM180 692h1v4h-1zM181 690h1v3h-1zM182 687h1v4h-1zM183 683h1v6h-1zM184 675h1v9h-1zM185 676h1v8h-1zM186 684h1v8h-1zM187 691h1v3h-1zM188 692h1v2h-1zM189 693h1v2h-1zM190 693h1v3h-1zM191 693h1v2h-1zM192 693h1v2h-1zM193 693h1v3h-1zM194 695h1v3h-1zM195 697h1v4h-1zM196 700h1v3h-1zM197 702h1v3h-1zM198 697h1v9h-1zM199 682h1v15h-1zM200 678h1v4h-1zM201 681h1v3h-1zM202 684h1v10h-1zM203 694h1v10h-1zM204 704h1v2h-1zM205 703h1v3h-1zM206 705h1v2h-1zM207 706h1v2h-1zM208 706h1v2h-1zM209 705h1v2h-1zM210 703h1v3h-1zM211 703h1v2h-1zM212 702h1v2h-1zM213 703h1v2h-1zM214 702h1v2h-1zM215 703h1v2h-1zM216 703h1v2h-1zM217 703h1v2h-1zM218 702h1v2h-1zM219 702h1v2h-1zM220 703h1v2h-1zM221 702h1v4h-1zM222 704h1v2h-1zM223 703h1v2h-1zM224 703h1v2h-1zM225 703h1v2h-1zM226 703h1v2h-1zM227 704h1v2h-1zM228 704h1v2h-1zM229 705h1v2h-1zM230 704h1v4h-1zM231 704h1v3h-1zM232 703h1v2h-1zM233 702h1v3h-1zM234 704h1v2h-1zM235 704h1v2h-1zM236 704h1v2h-1zM237 705h1v2h-1zM238 705h1v3h-1zM239 705h1v2h-1zM240 705h1v2h-1zM241 705h1v2h-1zM242 705h1v2h-1zM243 705h1v2h-1zM244 704h1v2h-1zM245 704h1v2h-1zM246 703h1v2h-1zM247 703h1v2h-1zM248 704h1v2h-1zM249 704h1v2h-1zM250 705h1v2h-1zM251 705h1v2h-1zM252 706h1v2h-1zM253 705h1v2h-1zM254 704h1v2h-1zM255 703h1v2h-1zM256 702h1v4h-1zM257 704h1v2h-1zM258 705h1v2h-1zM259 705h1v2h-1zM260 706h1v2h-1zM261 705h1v2h-1zM262 705h1v2h-1zM263 704h1v2h-1zM264 704h1v2h-1zM265 704h1v3h-1zM266 707h1v3h-1zM267 709h1v4h-1zM268 711h1v2h-1zM269 711h1v2h-1zM270 711h1v2h-1zM271 711h1v3h-1zM272 710h1v3h-1zM273 712h1v2h-1zM274 712h1v3h-1zM275 713h1v2h-1zM276 708h1v5h-1zM277 707h1v3h-1zM278 707h1v2h-1zM279 706h1v3h-1zM280 706h1v2h-1zM281 705h1v2h-1zM282 705h1v7h-1zM283 707h1v4h-1zM284 702h1v7h-1zM285 700h1v4h-1zM286 700h1v4h-1zM287 698h1v5h-1zM288 697h1v2h-1zM289 695h1v3h-1zM290 694h1v2h-1zM291 692h1v4h-1zM292 693h1v5h-1zM293 697h1v5h-1zM294 698h1v4h-1zM295 698h1v3h-1zM296 695h1v5h-1zM297 692h1v4h-1zM298 685h1v8h-1zM299 685h1v3h-1zM300 684h1v3h-1zM301 684h1v2h-1zM302 683h1v4h-1zM303 685h1v7h-1zM304 691h1v6h-1zM305 694h1v7h-1zM306 699h1v5h-1zM307 704h1v6h-1zM308 705h1v5h-1zM309 701h1v7h-1zM310 696h1v6h-1zM311 696h1v2h-1zM312 696h1v24h-1zM313 720h1v14h-1zM314 733h1v2h-1zM315 699h1v36h-1zM316 698h1v2h-1zM317 698h1v2h-1zM318 698h1v2h-1zM319 697h1v2h-1zM320 698h1v2h-1zM321 697h1v2h-1zM322 697h1v2h-1zM323 697h1v2h-1zM324 698h1v2h-1zM325 699h1v2h-1zM326 699h1v2h-1zM327 700h1v2h-1zM328 700h1v2h-1zM329 701h1v2h-1zM330 701h1v2h-1zM331 702h1v2h-1zM332 702h1v2h-1zM333 703h1v2h-1zM334 703h1v2h-1zM335 704h1v2h-1zM336 705h1v2h-1zM337 706h1v2h-1zM338 706h1v3h-1zM339 707h1v3h-1zM340 708h1v2h-1zM341 709h1v5h-1zM342 713h1v5h-1zM343 717h1v8h-1zM344 723h1v2h-1zM345 724h1v2h-1zM346 724h1v3h-1zM347 724h1v3h-1zM348 725h1v2h-1zM349 726h1v2h-1zM350 727h1v2h-1zM351 727h1v2h-1zM352 728h1v2h-1zM353 729h1v2h-1zM354 729h1v3h-1zM355 731h1v6h-1zM356 735h1v6h-1zM357 736h1v5h-1zM358 734h1v3h-1zM359 735h1v5h-1zM360 738h1v5h-1zM361 741h1v5h-1zM362 744h1v7h-1zM363 746h1v4h-1zM364 741h1v6h-1zM365 739h1v4h-1zM366 741h1v5h-1zM367 745h1v5h-1zM368 748h1v2h-1zM369 748h1v2h-1zM370 739h1v10h-1zM371 727h1v12h-1zM372 720h1v7h-1zM373 715h1v5h-1zM374 711h1v5h-1zM375 708h1v6h-1zM376 706h1v4h-1zM377 703h1v4h-1zM378 701h1v3h-1zM379 700h1v3h-1zM380 699h1v3h-1zM381 697h1v2h-1zM382 698h1v4h-1zM383 702h1v12h-1zM384 712h1v2h-1zM385 710h1v3h-1zM386 708h1v5h-1zM387 706h1v4h-1zM388 702h1v5h-1zM389 699h1v5h-1zM390 700h1v7h-1zM391 706h1v3h-1zM392 706h1v3h-1zM393 705h1v2h-1zM394 703h1v2h-1zM395 702h1v2h-1zM396 702h1v2h-1zM397 701h1v2h-1zM398 700h1v2h-1zM399 700h1v2h-1zM400 699h1v2h-1zM401 698h1v3h-1zM402 697h1v3h-1zM403 696h1v3h-1zM404 697h1v6h-1zM405 703h1v9h-1zM406 711h1v2h-1zM407 712h1v4h-1zM408 714h1v2h-1zM409 713h1v3h-1zM410 715h1v2h-1zM411 714h1v3h-1zM412 712h1v3h-1zM413 710h1v4h-1zM414 710h1v2h-1zM415 709h1v2h-1zM416 708h1v3h-1zM417 708h1v2h-1zM418 708h1v2h-1zM419 707h1v2h-1zM420 707h1v2h-1zM421 706h1v2h-1zM422 705h1v3h-1zM423 704h1v2h-1zM424 704h1v2h-1zM425 703h1v3h-1zM426 704h1v2h-1zM427 704h1v2h-1zM428 704h1v2h-1zM429 704h1v3h-1zM430 704h1v3h-1zM431 705h1v2h-1zM432 704h1v5h-1zM433 705h1v2h-1zM434 706h1v2h-1zM435 707h1v2h-1zM436 706h1v2h-1zM437 707h1v2h-1zM438 707h1v4h-1zM439 708h1v2h-1zM440 707h1v2h-1zM441 707h1v3h-1zM442 707h1v2h-1zM443 706h1v2h-1zM444 708h1v4h-1zM445 708h1v3h-1zM446 709h1v2h-1zM447 710h1v3h-1zM448 710h1v2h-1zM449 709h1v3h-1zM450 709h1v2h-1zM451 708h1v2h-1zM452 707h1v2h-1zM453 706h1v8h-1zM454 710h1v3h-1zM455 711h1v2h-1zM456 711h1v2h-1zM457 711h1v2h-1zM458 711h1v3h-1zM459 711h1v3h-1zM460 711h1v2h-1zM461 710h1v3h-1zM462 710h1v3h-1zM463 709h1v3h-1zM464 709h1v3h-1zM465 708h1v3h-1zM466 706h1v6h-1zM467 707h1v2h-1zM468 707h1v2h-1zM469 706h1v2h-1zM470 707h1v2h-1zM471 707h1v2h-1zM472 708h1v2h-1zM473 707h1v2h-1zM474 707h1v2h-1zM475 707h1v2h-1zM476 707h1v2h-1zM477 707h1v2h-1zM478 705h1v3h-1zM479 706h1v2h-1zM480 705h1v2h-1zM481 706h1v2h-1zM482 706h1v2h-1zM483 706h1v2h-1zM484 706h1v2h-1zM485 706h1v2h-1zM486 706h1v2h-1zM487 706h1v2h-1zM488 706h1v2h-1zM489 706h1v2h-1zM490 706h1v2h-1zM491 706h1v2h-1zM492 707h1v3h-1zM493 706h1v2h-1zM494 705h1v3h-1zM495 704h1v25h-1zM496 729h1v5h-1zM497 733h1v2h-1zM498 710h1v24h-1zM499 710h1v3h-1zM500 712h1v4h-1zM501 714h1v4h-1zM502 717h1v3h-1zM503 718h1v3h-1zM504 717h1v3h-1zM505 715h1v4h-1zM506 712h1v4h-1zM507 706h1v7h-1zM508 702h1v6h-1zM509 703h1v5h-1zM510 707h1v3h-1zM511 710h1v2h-1zM512 711h1v3h-1zM513 712h1v2h-1zM514 712h1v2h-1zM515 712h1v2h-1zM516 712h1v3h-1zM517 712h1v2h-1zM518 711h1v2h-1zM519 710h1v3h-1zM520 710h1v4h-1zM521 708h1v4h-1zM522 707h1v2h-1zM523 705h1v3h-1zM524 704h1v3h-1zM525 704h1v2h-1zM526 703h1v2h-1zM527 702h1v3h-1zM528 701h1v2h-1zM529 701h1v2h-1zM530 701h1v2h-1zM531 701h1v2h-1zM532 702h1v2h-1zM533 702h1v2h-1zM534 701h1v2h-1zM535 702h1v3h-1zM536 702h1v2h-1zM537 703h1v2h-1zM538 704h1v3h-1zM539 704h1v2h-1zM540 705h1v2h-1zM541 706h1v2h-1zM542 707h1v2h-1zM543 707h1v2h-1zM544 708h1v2h-1zM545 709h1v2h-1zM546 709h1v3h-1zM547 710h1v3h-1zM548 711h1v2h-1zM549 712h1v2h-1zM550 712h1v2h-1zM551 713h1v2h-1zM552 714h1v2h-1zM553 714h1v2h-1zM554 715h1v2h-1zM555 716h1v2h-1zM556 716h1v4h-1zM557 717h1v4h-1zM558 719h1v3h-1zM559 721h1v2h-1zM560 723h1v8h-1zM561 726h1v16h-1zM562 725h1v3h-1zM563 727h1v4h-1zM564 729h1v3h-1zM565 731h1v3h-1zM566 733h1v5h-1zM567 735h1v3h-1zM568 737h1v4h-1zM569 739h1v3h-1zM570 740h1v3h-1zM571 742h1v4h-1zM572 743h1v3h-1zM573 744h1v3h-1zM574 746h1v5h-1zM575 750h1v5h-1zM576 754h1v2h-1zM577 754h1v3h-1zM578 752h1v2h-1zM579 753h1v2h-1zM580 752h1v2h-1zM581 752h1v3h-1zM582 753h1v2h-1zM583 753h1v2h-1zM584 751h1v3h-1zM585 751h1v2h-1zM586 736h1v15h-1zM587 721h1v15h-1zM588 717h1v6h-1zM589 715h1v6h-1zM590 713h1v8h-1zM591 713h1v7h-1zM592 710h1v8h-1zM593 708h1v8h-1zM594 707h1v9h-1zM595 709h1v9h-1zM596 712h1v8h-1zM597 710h1v9h-1zM598 709h1v11h-1zM599 706h1v10h-1zM600 704h1v9h-1zM601 702h1v7h-1zM602 701h1v5h-1zM603 699h1v6h-1zM604 697h1v9h-1zM605 698h1v9h-1z" fill="#f00" shape-rendering="crispEdges"/>
</svg></body></html>
